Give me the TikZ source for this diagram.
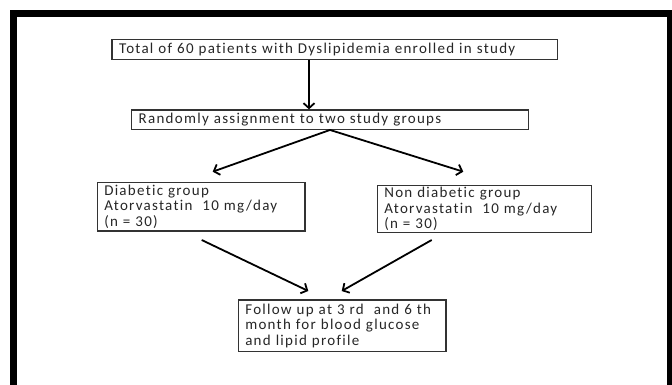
\documentclass[tikz,border=0pt]{standalone}
\usepackage{fontspec}
\setmainfont[LetterSpace=8.5,Ligatures=NoCommon]{Carlito}
\usetikzlibrary{arrows.meta}

\begin{document}
\begin{tikzpicture}[x=1pt,y=-1pt,
    box/.style={draw=boxgray, line width=1.3pt, inner xsep=7pt, inner ysep=2pt,
      align=left, font=\fontsize{15}{15.5}\selectfont, text=black!85},
    arr/.style={line width=1.8pt, -{Straight Barb[length=5pt,width=11pt]}}]
	\definecolor{boxgray}{gray}{0.2}
	\useasboundingbox (0,0) rectangle (672,385);
	%% Frame ------
	\draw[line width=7pt] (13.5,390) -- (13.5,13.5) -- (670.5,13.5) -- (670.5,390);
	%% Boxes ------
	\node[box, minimum width=445.7pt, minimum height=20pt, text width=431.7pt] (total) at (334.85,49.3)
		{Total of 60 patients with Dyslipidemia enrolled in study};
	\node[box, minimum width=396.6pt, minimum height=19.3pt, text width=382.6pt] (assign) at (330,119.65)
		{Randomly assignment to two study groups};
	\node[box, minimum width=207.7pt, minimum height=48.7pt, text width=193.7pt] (diab) at (201.15,206.65)
		{Diabetic group\\Atorvastatin\ \ 10 mg/day\\(n = 30)};
	\node[box, minimum width=214.4pt, minimum height=46.6pt, text width=200.4pt] (nondiab) at (484.5,209)
		{Non diabetic group\\Atorvastatin\ \ 10 mg/day\\(n = 30)};
	\node[box, minimum width=207.7pt, minimum height=51.7pt, text width=193.7pt] (follow) at (342.15,325.85)
		{Follow up at 3 rd\ \ and 6 th\\month for blood glucose\\and lipid profile};
	%% Arrow ends ---------
	\coordinate (split) at (309,0);
	\coordinate (diabtip) at (212.7,171.7);
	\coordinate (nondiabtip) at (463.3,171.7);
	\coordinate (diabtail) at (201.7,240);
	\coordinate (nondiabtail) at (431.7,240);
	\coordinate (followtipl) at (308.3,291);
	\coordinate (followtipr) at (341.7,291);
	%% Arrows ---------
	\draw[arr] (split |- total.south) -- (split |- assign.north);
	\draw[arr] (assign.south) -- (diabtip);
	\draw[arr] (assign.south) -- (nondiabtip);
	\draw[arr] (diabtail) -- (followtipl);
	\draw[arr] (nondiabtail) -- (followtipr);
\end{tikzpicture}
\end{document}
